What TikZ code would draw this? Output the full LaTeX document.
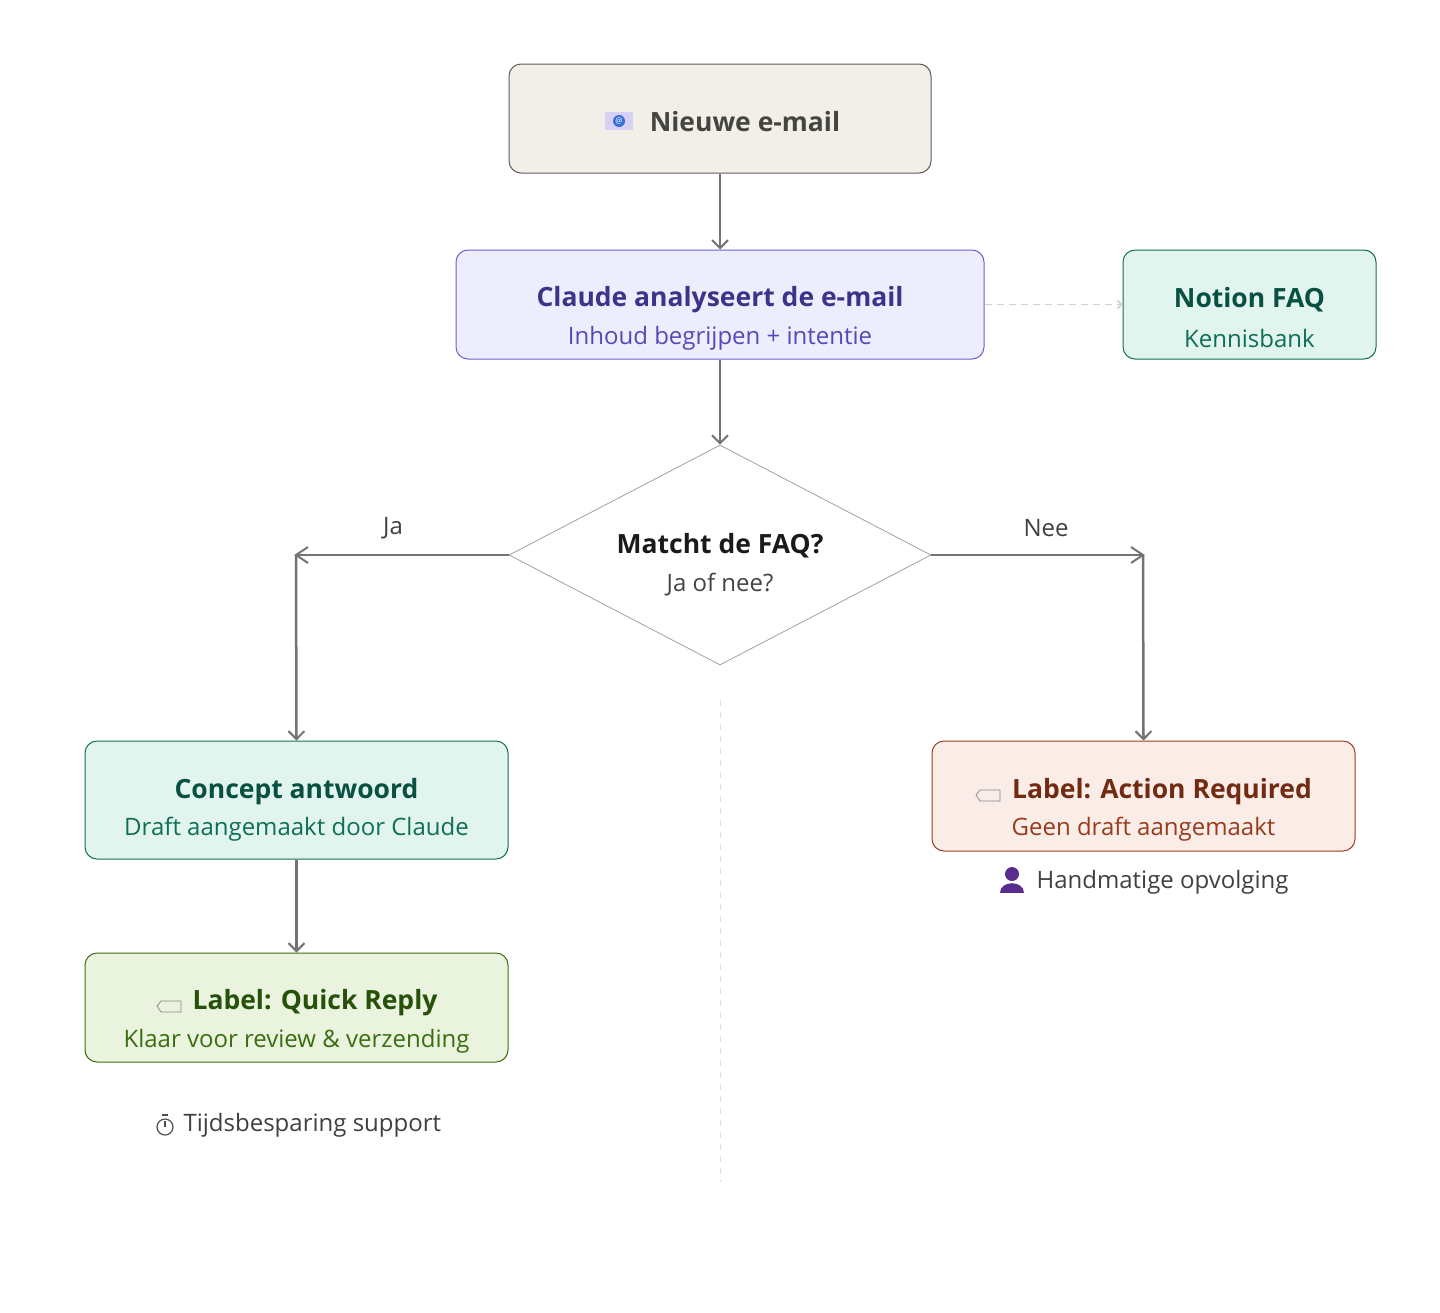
\documentclass[tikz,border=0pt]{standalone}
\usepackage{fontspec}
\setmainfont{Open Sans}
\usetikzlibrary{arrows.meta,shapes.geometric}
\definecolor{edge}{HTML}{737373}
\definecolor{mailf}{HTML}{F1EFE8}\definecolor{maild}{HTML}{5F5E5A}\definecolor{mailt}{HTML}{444441}
\definecolor{pf}{HTML}{EEEDFE}\definecolor{pd}{HTML}{6E5FD0}\definecolor{pt}{HTML}{3C3489}\definecolor{ps}{HTML}{534AB7}
\definecolor{gf}{HTML}{E1F5EE}\definecolor{gd}{HTML}{0F6E56}\definecolor{gt}{HTML}{085041}
\definecolor{lf}{HTML}{EAF3DE}\definecolor{ld}{HTML}{3B6D11}\definecolor{lt}{HTML}{27500A}
\definecolor{rf}{HTML}{FAECE7}\definecolor{rd}{HTML}{993C1D}\definecolor{rt}{HTML}{712B13}
\definecolor{dashc}{HTML}{D0D0D0}\definecolor{diam}{HTML}{A0A0A0}\definecolor{vdash}{HTML}{E0E0E0}
\definecolor{iconl}{HTML}{D8D0F5}\definecolor{iconb}{HTML}{3A6FD8}\definecolor{tagc}{HTML}{888888}\definecolor{pers}{HTML}{5B2C8F}
\definecolor{dark}{HTML}{1A1A1A}\definecolor{mid}{HTML}{444444}
\begin{document}
\begin{tikzpicture}[x=1pt,y=-1pt,
  box/.style={draw,rounded corners=12pt,line width=1pt,inner sep=0pt},
  ttl/.style={font=\fontsize{26.5}{30}\selectfont\bfseries},
  sub/.style={font=\fontsize{24}{28}\selectfont},
  conn/.style={draw=edge,line width=2.5pt,-{Straight Barb[length=8pt,width=16pt,line width=2pt]}},
  txt/.style={font=\fontsize{24}{28}\selectfont,text=black!75}]
\useasboundingbox (0,0) rectangle (1440,1312);
\node[box,fill=mailf,draw=maild,minimum width=422pt,minimum height=109pt] (mail) at (720,118.5) {};
\node[ttl,text=mailt] at (745,122) (mailt) {Nieuwe e-mail};
\fill[iconl] (605,112) rectangle (633,130);
\fill[iconb] (619,121) circle (6pt);
\node[text=white,font=\fontsize{8}{8}\selectfont] at (619,121) (atn) {@};
\node[box,fill=pf,draw=pd,minimum width=528pt,minimum height=109pt] (claude) at (720,304.5) {};
\node[ttl,text=pt] at (720,300) (ct) {Claude analyseert de e-mail};
\node[sub,text=ps] at (720,338) (cs) {Inhoud begrijpen + intentie};
\node[box,fill=gf,draw=gd,minimum width=253pt,minimum height=109pt] (notion) at (1249.5,304.5) {};
\node[ttl,text=gt] at (1249.5,300) (nt) {Notion FAQ};
\node[sub,text=gd] at (1249.5,338) (ns) {Kennisbank};
\draw[draw=dashc,line width=1.5pt,dash pattern=on 7pt off 5pt,-{Straight Barb[length=4pt,width=8pt]}] (claude.east) -- (notion.west);
\node[diamond,draw=diam,line width=0.8pt,minimum width=422pt,minimum height=220pt,inner sep=0pt,aspect=1.92] (dec) at (720,555) {};
\node[ttl,text=dark] at (720,546) (dt) {Matcht de FAQ?};
\node[sub,text=mid] at (720,585) (ds) {Ja of nee?};
\node[box,fill=gf,draw=gd,minimum width=423pt,minimum height=118pt] (concept) at (296.5,800) {};
\node[ttl,text=gt] at (296.5,792) (cot) {Concept antwoord};
\node[sub,text=gd] at (296.5,829) (cos) {Draft aangemaakt door Claude};
\node[box,fill=lf,draw=ld,minimum width=423pt,minimum height=109pt] (quick) at (296.5,1007.5) {};
\node[ttl,text=lt] at (315,1003) (qt) {Label: Quick Reply};
\node[sub,text=ld] at (296.5,1041) (qs) {Klaar voor review \& verzending};
\node[box,fill=rf,draw=rd,minimum width=423pt,minimum height=110pt] (action) at (1143.5,796) {};
\node[ttl,text=rt] at (1162,792) (at2) {Label: Action Required};
\node[sub,text=rd] at (1143.5,829) (as) {Geen draft aangemaakt};
\draw[tagc,line width=0.8pt] (157,1006) -- (161,1001) -- (181,1001) -- (181,1012) -- (161,1012) -- cycle;
\draw[tagc,line width=0.8pt] (976,795) -- (980,790) -- (1000,790) -- (1000,801) -- (980,801) -- cycle;
\draw[conn] (mail) -- (claude);
\draw[conn] (claude) -- (dec.north);
\coordinate (jl) at (296,555);
\coordinate (nr) at (1143,555);
\draw[draw=edge,line width=2.5pt] (dec.west) -- (jl);
\draw[conn] (jl) -- (concept.north);
\draw[draw=edge,line width=2.5pt] (dec.east) -- (nr);
\draw[conn] (nr) -- (action.north);
\draw[draw=edge,line width=2pt] (jl) ++(12,-8) -- (jl) -- ++(12,8);
\draw[draw=edge,line width=2pt] (nr) ++(-12,-8) -- (nr) -- ++(-12,8);
\draw[conn] (concept) -- (quick);
\node[txt] at (393,528) (ja) {Ja};
\node[txt] at (1046,528) (nee) {Nee};
\coordinate (v1) at (720,700); \coordinate (v2) at (720,1182);
\draw[draw=vdash,line width=1pt,dash pattern=on 6pt off 6pt] (v1) -- (v2);
\node[txt,anchor=west] at (1033,882) (hand) {Handmatige opvolging};
\fill[pers] (1012,874) circle (7pt);
\fill[pers] (1000,893) .. controls (1000,880) and (1024,880) .. (1024,893) -- cycle;
\node[txt,anchor=west] at (180,1125) (tijd) {Tijdsbesparing support};
\draw[black!70,line width=1.2pt] (165,1127) circle (8pt);
\draw[black!70,line width=1.2pt] (165,1127) -- (165,1121) (162,1115) -- (168,1115);
\end{tikzpicture}
\end{document}
